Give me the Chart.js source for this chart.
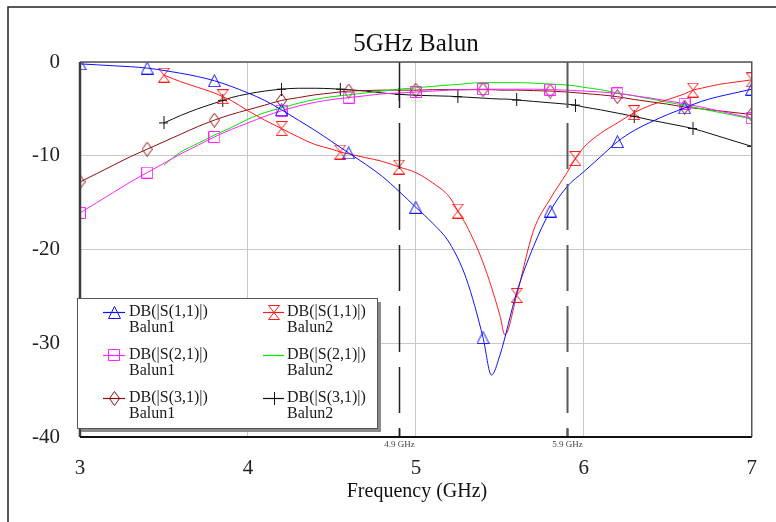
<!DOCTYPE html>
<html lang="en">
<head>
<meta charset="UTF-8">
<title>5GHz Balun</title>
<script src="https://cdn.jsdelivr.net/npm/chart.js"></script>
<style>
  html, body { margin: 0; padding: 0; background: #fff; }
  #wrap { width: 776px; height: 522px; }
</style>
</head>
<body>
<div id="wrap"><canvas id="balunChart" width="776" height="522"></canvas></div>
<script>
// frequency grids (GHz)
const freqBalun1 = [3.0, 3.1, 3.2, 3.3, 3.4, 3.5, 3.6, 3.7, 3.8, 3.9, 4.0, 4.1, 4.2, 4.3, 4.4, 4.5, 4.6, 4.7, 4.8, 4.9,
  5.0, 5.1, 5.2, 5.3, 5.4, 5.45, 5.5, 5.6, 5.7, 5.8, 5.9, 6.0, 6.1, 6.2, 6.3, 6.4, 6.5, 6.6, 6.7, 6.8, 6.9, 7.0];
const freqBalun2 = [3.5, 3.6, 3.7, 3.8, 3.85, 3.9, 4.0, 4.1, 4.2, 4.3, 4.4, 4.5, 4.55, 4.6, 4.7, 4.8, 4.9, 5.0, 5.1, 5.2,
  5.25, 5.3, 5.4, 5.5, 5.53, 5.6, 5.7, 5.8, 5.9, 5.95, 6.0, 6.1, 6.2, 6.3, 6.4, 6.5, 6.6, 6.65, 6.7, 6.8, 6.9, 7.0];

// where the symbols sit on each curve
const markerFreqBalun1 = [3.0, 3.4, 3.8, 4.2, 4.6, 5.0, 5.4, 5.8, 6.2, 6.6, 7.0];
const markerFreqBalun2 = [3.5, 3.85, 4.2, 4.55, 4.9, 5.25, 5.6, 5.95, 6.3, 6.65, 7.0];

// dB values
const s11Balun1 = [-0.2, -0.3, -0.4, -0.5, -0.65, -0.9, -1.2, -1.55, -2.0, -2.6, -3.3, -4.1, -5.1, -6.2, -7.3, -8.5, -9.7, -10.9, -12.2, -13.8,
  -15.5, -17.2, -19.3, -23.1, -29.4, -33.4, -31.3, -24.6, -19.7, -15.9, -13.3, -11.7, -10.1, -8.5, -7.3, -6.4, -5.6, -4.9, -4.2, -3.7, -3.3, -2.9];
const s21Balun1 = [-16.1, -15.0, -13.9, -12.8, -11.8, -10.8, -9.8, -8.9, -8.0, -7.2, -6.5, -5.8, -5.2, -4.7, -4.3, -4.0, -3.8, -3.6, -3.4, -3.3,
  -3.2, -3.1, -3.0, -2.95, -2.9, -2.9, -2.9, -2.9, -2.9, -2.95, -3.0, -3.1, -3.2, -3.35, -3.6, -3.85, -4.15, -4.45, -4.8, -5.2, -5.6, -6.0];
const s31Balun1 = [-12.8, -11.9, -11.0, -10.1, -9.3, -8.5, -7.7, -6.9, -6.2, -5.6, -5.1, -4.6, -4.1, -3.8, -3.5, -3.3, -3.1, -3.05, -3.0, -3.0,
  -3.0, -2.95, -2.95, -2.95, -2.95, -2.95, -3.0, -3.0, -3.05, -3.1, -3.2, -3.35, -3.5, -3.7, -4.0, -4.25, -4.5, -4.8, -5.0, -5.2, -5.4, -5.6];
const s11Balun2 = [-1.4, -2.1, -2.7, -3.3, -3.7, -4.1, -5.2, -6.2, -7.1, -8.0, -8.8, -9.3, -9.6, -9.8, -10.2, -10.6, -11.2, -11.8, -12.9, -14.4,
  -15.9, -17.4, -21.4, -27.0, -29.1, -24.9, -18.0, -14.6, -11.8, -10.3, -9.1, -7.6, -6.5, -5.4, -4.6, -4.0, -3.4, -3.0, -2.8, -2.4, -2.15, -1.9];
const s21Balun2 = [-11.0, -9.6, -8.7, -7.8, -7.4, -7.0, -6.1, -5.4, -4.9, -4.4, -4.0, -3.7, -3.6, -3.5, -3.3, -3.1, -2.9, -2.75, -2.6, -2.45,
  -2.4, -2.3, -2.2, -2.2, -2.2, -2.2, -2.25, -2.35, -2.45, -2.55, -2.7, -2.95, -3.3, -3.6, -3.95, -4.3, -4.6, -4.8, -5.0, -5.35, -5.7, -6.1];
const s31Balun2 = [-6.5, -5.7, -5.0, -4.4, -4.1, -3.8, -3.4, -3.1, -2.9, -2.8, -2.8, -2.85, -2.9, -2.95, -3.1, -3.3, -3.45, -3.55, -3.6, -3.65,
  -3.7, -3.75, -3.85, -3.95, -3.95, -4.05, -4.2, -4.35, -4.5, -4.6, -4.8, -5.1, -5.45, -5.8, -6.2, -6.55, -6.9, -7.1, -7.35, -7.9, -8.45, -9.0];

// axes
const xTicks = [3, 4, 5, 6, 7];
const yTicks = [0, -10, -20, -30, -40];
const bandFreqs = [4.9, 5.9];
const bandLabels = ['4.9 GHz', '5.9 GHz'];

const SERIF = "'Liberation Serif', 'DejaVu Serif', serif";

function markerCanvas(kind, color, legend) {
    const c = document.createElement('canvas');
    const dims = { tri: [13, 13], hour: [12, 15], sq: [12, 12], dia: [11, 15], plus: legend ? [13, 13] : [9, 13] }[kind];
    c.width = dims[0];
    c.height = dims[1];
    const g = c.getContext('2d');
    g.strokeStyle = color;
    g.lineWidth = 1;
    g.beginPath();
    if (kind === 'tri') {
        g.moveTo(6.5, 0.5); g.lineTo(12.5, 12.5); g.lineTo(0.5, 12.5); g.closePath();
    } else if (kind === 'hour') {
        g.moveTo(0.5, 0.5); g.lineTo(11.5, 0.5); g.lineTo(0.5, 14.5); g.lineTo(11.5, 14.5); g.closePath();
    } else if (kind === 'sq') {
        g.rect(0.5, 0.5, 11, 11);
    } else if (kind === 'dia') {
        g.moveTo(5.5, 0.5); g.lineTo(10.5, 7.5); g.lineTo(5.5, 14.5); g.lineTo(0.5, 7.5); g.closePath();
    } else if (kind === 'plus') {
        const w = dims[0];
        g.moveTo(Math.floor(w / 2) + 0.5, 0); g.lineTo(Math.floor(w / 2) + 0.5, 13);
        g.moveTo(0, 6.5); g.lineTo(w, 6.5);
    }
    g.stroke();
    return c;
}

function toPoints(freqs, vals) {
    return freqs.map((f, i) => ({ x: f, y: vals[i] }));
}

function makeSeries(label, freqs, vals, markerFreqs, color, kind) {
    const img = kind ? markerCanvas(kind, color, false) : null;
    return {
        label: label,
        data: toPoints(freqs, vals),
        borderColor: color,
        borderWidth: 1,
        backgroundColor: color,
        cubicInterpolationMode: 'monotone',
        pointStyle: img || 'circle',
        pointRadius: ctx => (img && markerFreqs.some(m => Math.abs(m - ctx.raw.x) < 1e-6)) ? 6 : 0,
        legendImg: kind ? markerCanvas(kind, color, true) : null
    };
}

const series = [
    makeSeries('DB(|S(1,1)|)\nBalun1', freqBalun1, s11Balun1, markerFreqBalun1, '#1010ff', 'tri'),
    makeSeries('DB(|S(1,1)|)\nBalun2', freqBalun2, s11Balun2, markerFreqBalun2, '#ff1a1a', 'hour'),
    makeSeries('DB(|S(2,1)|)\nBalun1', freqBalun1, s21Balun1, markerFreqBalun1, '#ff22ff', 'sq'),
    makeSeries('DB(|S(2,1)|)\nBalun2', freqBalun2, s21Balun2, markerFreqBalun2, '#00e600', null),
    makeSeries('DB(|S(3,1)|)\nBalun1', freqBalun1, s31Balun1, markerFreqBalun1, '#8b1010', 'dia'),
    makeSeries('DB(|S(3,1)|)\nBalun2', freqBalun2, s31Balun2, markerFreqBalun2, '#111111', 'plus')
];

// frame, band lines, titles and the boxed legend
const decorPlugin = {
    id: 'decor',
    beforeDraw(chart) {
        const ctx = chart.ctx;
        ctx.save();
        ctx.strokeStyle = '#222';
        ctx.lineWidth = 1.5;
        ctx.beginPath();
        ctx.moveTo(8, 522); ctx.lineTo(8, 7); ctx.lineTo(776, 7);
        ctx.stroke();
        ctx.restore();
    },
    afterDatasetsDraw(chart) {
        const ctx = chart.ctx;
        const a = chart.chartArea;
        const xs = chart.scales.x;

        ctx.save();
        // band markers
        bandFreqs.forEach((f, i) => {
            const px = Math.round(xs.getPixelForValue(f)) + 0.5;
            ctx.strokeStyle = i === 0 ? '#222' : '#5a5a5a';
            ctx.lineWidth = i === 0 ? 1.5 : 2;
            ctx.setLineDash([46, 15]);
            ctx.beginPath();
            ctx.moveTo(px, a.top);
            ctx.lineTo(px, a.bottom);
            ctx.stroke();
            ctx.setLineDash([]);
            ctx.beginPath();
            ctx.moveTo(px, a.bottom - 8);
            ctx.lineTo(px, a.bottom);
            ctx.stroke();
            ctx.fillStyle = '#444';
            ctx.font = '9px ' + SERIF;
            ctx.textAlign = 'center';
            ctx.textBaseline = 'middle';
            ctx.fillText(bandLabels[i], px, a.bottom + 8);
        });

        // plot border
        ctx.lineWidth = 1.5;
        ctx.strokeStyle = '#555';
        ctx.beginPath();
        ctx.moveTo(a.left, a.top); ctx.lineTo(a.right, a.top); ctx.lineTo(a.right, a.bottom);
        ctx.stroke();
        ctx.lineWidth = 2.5;
        ctx.strokeStyle = '#3c3c3c';
        ctx.beginPath();
        ctx.moveTo(a.left, a.top); ctx.lineTo(a.left, a.bottom);
        ctx.stroke();
        ctx.strokeStyle = '#111';
        ctx.lineWidth = 2;
        ctx.beginPath();
        ctx.moveTo(a.left, a.bottom); ctx.lineTo(a.right, a.bottom);
        ctx.stroke();

        // titles
        ctx.fillStyle = '#111';
        ctx.textAlign = 'center';
        ctx.textBaseline = 'middle';
        ctx.font = '25px ' + SERIF;
        ctx.fillText('5GHz Balun', 416, 44);
        ctx.font = '20px ' + SERIF;
        ctx.fillText('Frequency (GHz)', 417, 492);

        // legend box
        const bx = 77, by = 298, bw = 300, bh = 130;
        ctx.fillStyle = '#8a8a8a';
        ctx.fillRect(bx + 4, by + 4, bw, bh);
        ctx.fillStyle = '#fff';
        ctx.fillRect(bx, by, bw, bh);
        ctx.strokeStyle = '#555';
        ctx.lineWidth = 1;
        ctx.strokeRect(bx + 0.5, by + 0.5, bw, bh);

        const colX = [[103, 125, 129], [263, 284, 287]];
        const rowY = [312, 355, 398];
        chart.data.datasets.forEach((ds, i) => {
            const col = colX[i % 2];
            const y = rowY[Math.floor(i / 2)];
            ctx.strokeStyle = ds.borderColor;
            ctx.lineWidth = 1.2;
            ctx.beginPath();
            ctx.moveTo(col[0], y + 0.5);
            ctx.lineTo(col[1], y + 0.5);
            ctx.stroke();
            if (ds.legendImg) {
                const img = ds.legendImg;
                const cx = Math.round((col[0] + col[1]) / 2);
                ctx.drawImage(img, cx - Math.floor(img.width / 2), y - Math.floor(img.height / 2));
            }
            ctx.fillStyle = '#1a1a1a';
            ctx.font = '16px ' + SERIF;
            ctx.textAlign = 'left';
            ctx.textBaseline = 'middle';
            const lines = ds.label.split('\n');
            ctx.fillText(lines[0], col[2], y);
            ctx.fillText(lines[1], col[2], y + 16);
        });
        ctx.restore();
    }
};

const chart = new Chart(document.getElementById('balunChart').getContext('2d'), {
    type: 'line',
    data: { datasets: series },
    options: {
        responsive: false,
        animation: false,
        devicePixelRatio: 1,
        events: [],
        layout: { padding: { top: 62, right: 24, left: 0, bottom: 0 } },
        plugins: {
            legend: { display: false },
            title: { display: false },
            tooltip: { enabled: false }
        },
        scales: {
            x: {
                type: 'linear',
                min: xTicks[0],
                max: xTicks[xTicks.length - 1],
                afterFit: s => { s.height = 85; },
                afterBuildTicks: s => { s.ticks = xTicks.map(v => ({ value: v })); },
                border: { display: false },
                grid: { color: '#c8c8c8', lineWidth: 1, drawTicks: false },
                ticks: {
                    padding: 19,
                    maxRotation: 0,
                    autoSkip: false,
                    color: '#222',
                    font: { family: SERIF, size: 21 }
                }
            },
            y: {
                min: yTicks[yTicks.length - 1],
                max: yTicks[0],
                afterFit: s => { s.width = 80; },
                afterBuildTicks: s => { s.ticks = yTicks.map(v => ({ value: v })); },
                border: { display: false },
                grid: { color: '#c8c8c8', lineWidth: 1, drawTicks: false },
                ticks: {
                    padding: 20,
                    color: '#222',
                    font: { family: SERIF, size: 21 },
                    callback: v => String(v)
                }
            }
        }
    },
    plugins: [decorPlugin]
});
</script>
</body>
</html>
